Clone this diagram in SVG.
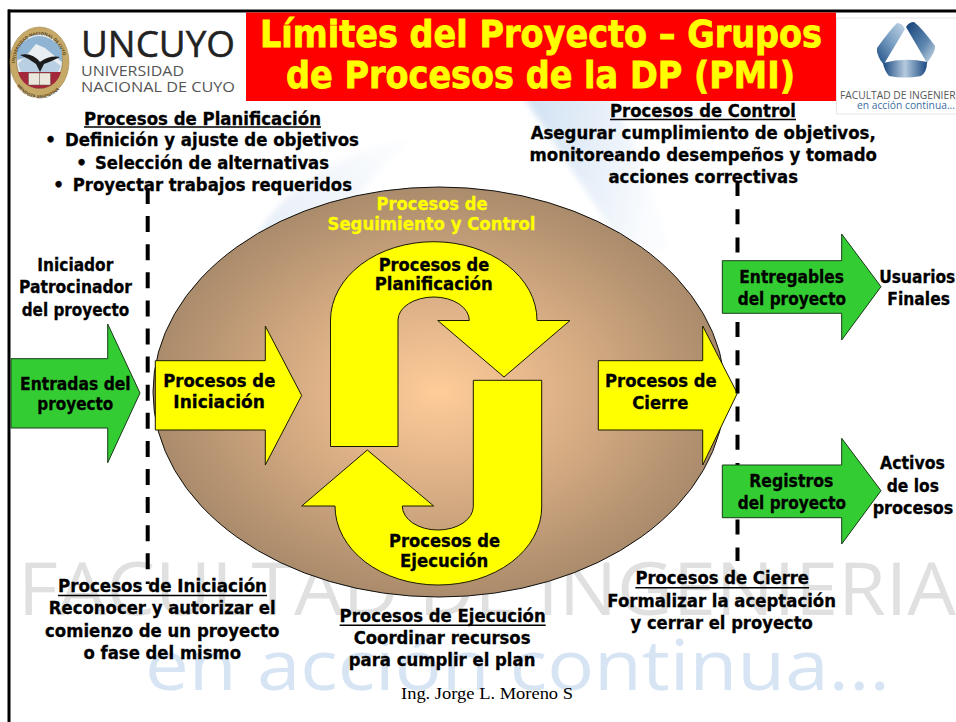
<svg xmlns="http://www.w3.org/2000/svg" width="956" height="722" viewBox="0 0 956 722">
<defs>
<style>
text{font-family:"DejaVu Sans","Liberation Sans",sans-serif;font-weight:700;font-size:17.4px;fill:#000;stroke:#000;stroke-width:.3}
.y{fill:#ffff00;stroke:#ffff00}
.title{font-size:38px;fill:#ffff00;stroke:#ffff00;stroke-width:.8}
.wm{font-family:"Open Sans","Liberation Sans",sans-serif;font-weight:400;stroke:none}
.logo{font-family:"Open Sans","Liberation Sans",sans-serif;font-weight:400;stroke:none}
.arrow-y{fill:#ffff00;stroke:#1a1a00;stroke-width:1}
.arrow-g{fill:#33cc33;stroke:#1a3a1a;stroke-width:1}
.dash{stroke:#000;stroke-width:4;fill:none}
.ul{stroke:#000;stroke-width:1.6}
</style>
<radialGradient id="eg" gradientUnits="objectBoundingBox" cx="0.5" cy="0.5" r="0.5">
<stop offset="0" stop-color="#ffcc99"/><stop offset="0.45" stop-color="#dcb086"/><stop offset="1" stop-color="#aa8b6b"/>
</radialGradient>
<linearGradient id="wmR" x1="0" y1="0" x2="1" y2="0.2"><stop offset="0" stop-color="#cfe0f2"/><stop offset="1" stop-color="#fbfcfe"/></linearGradient>
<linearGradient id="wmL" x1="0" y1="1" x2="1" y2="0"><stop offset="0" stop-color="#e2ebf6"/><stop offset="1" stop-color="#ffffff"/></linearGradient>
<linearGradient id="lbL" x1="0" y1="1" x2="1" y2="0"><stop offset="0" stop-color="#1f4f86"/><stop offset="0.55" stop-color="#7fa3c6"/><stop offset="1" stop-color="#c4d6e6"/></linearGradient>
<linearGradient id="lbR" x1="0" y1="0" x2="1" y2="1"><stop offset="0" stop-color="#123f76"/><stop offset="0.6" stop-color="#5f88b0"/><stop offset="1" stop-color="#d5e1ec"/></linearGradient>
<linearGradient id="lbB" x1="0" y1="0" x2="1" y2="0"><stop offset="0" stop-color="#1a4a82"/><stop offset="0.5" stop-color="#b5cade"/><stop offset="1" stop-color="#1a4a82"/></linearGradient>
<filter id="soft" x="-20%" y="-20%" width="140%" height="140%"><feGaussianBlur stdDeviation="3"/></filter>
<path id="sealTop" d="M14.5 66 A25 31 0 0 1 64.5 66"/>
<path id="sealBot" d="M12 74 A28 30 0 0 0 67 74"/>
</defs>
<rect width="956" height="722" fill="#ffffff"/>
<g id="watermark">
<path d="M523 96 L610 96 Q650 170 668 250 L625 250 Z" fill="url(#wmR)" filter="url(#soft)"/>
<path d="M250 250 Q285 165 420 135 Q345 190 330 260 Z" fill="url(#wmL)" filter="url(#soft)"/>
<text class="wm" x="18" y="615" textLength="938" lengthAdjust="spacingAndGlyphs" style="font-size:74px;fill:#e0e0e0;stroke:none">FACULTAD DE INGENIERIA</text>
<text class="wm" x="145" y="690" textLength="745" lengthAdjust="spacingAndGlyphs" style="font-size:70px;fill:#d6e4f4;stroke:none">en acción continua...</text>
</g>
<g id="frame"><path d="M8 11H956" stroke="#000" stroke-width="3"/><path d="M9 9.5V722" stroke="#000" stroke-width="3"/></g>
<g id="title">
<rect x="246" y="12.5" width="590" height="88.5" fill="#ff0000"/>
<text class="title" x="260" y="47" textLength="562" lengthAdjust="spacingAndGlyphs">Límites del Proyecto – Grupos</text>
<text class="title" x="286" y="88" textLength="509" lengthAdjust="spacingAndGlyphs">de Procesos de la DP (PMI)</text>
</g>
<g id="logo-uncuyo">
<ellipse cx="39.5" cy="62" rx="29.5" ry="35" fill="#c6a867" stroke="#a58a52" stroke-width="0.6"/>
<ellipse cx="39.5" cy="61" rx="23" ry="27.5" fill="#e9eef2" stroke="#6d5a35" stroke-width="0.5"/>
<path d="M17 48 Q39 24 62 48 L62 62 L45 48 L36 44 L24 58 L17 60Z" fill="#8fb4d4"/>
<path d="M18 64 L28 54 L38 62 L50 58 L61 66 L58 72 H21Z" fill="#b9d0e2"/>
<path d="M20 55 Q32 52 40 62 Q50 55 60 57 Q50 62 44 64 L40 72 L36 64 Q28 58 20 55Z" fill="#1c1c1c"/>
<path d="M18 72 H61 Q56 88 39.5 88.5 Q23 88 18 72Z" fill="#a3283c"/>
<rect x="28.5" y="73" width="22" height="12" fill="#ece7dc" stroke="#6b5b50" stroke-width="0.5"/>
<path d="M39.5 73V85" stroke="#6b5b50" stroke-width="0.6"/>
<text class="logo" style="font-size:4.4px;font-weight:700;fill:#5d4a22"><textPath href="#sealTop" startOffset="3%">UNIVERSIDAD NACIONAL DE CUYO</textPath></text>
<text class="logo" style="font-size:4.4px;font-weight:700;fill:#5d4a22"><textPath href="#sealBot" startOffset="16%">MENDOZA ARGENTINA</textPath></text>
<text class="logo" x="81" y="57" textLength="154" lengthAdjust="spacingAndGlyphs" style="font-size:37px;fill:#222;stroke:#222;stroke-width:.5">UNCUYO</text>
<text class="logo" x="81" y="76" textLength="103" lengthAdjust="spacingAndGlyphs" style="font-size:15px;fill:#555">UNIVERSIDAD</text>
<text class="logo" x="81" y="92" textLength="154" lengthAdjust="spacingAndGlyphs" style="font-size:15px;fill:#555">NACIONAL DE CUYO</text>
</g>
<g id="logo-facultad">
<rect x="836.5" y="18" width="125" height="96" fill="#fff" stroke="#e6e6e6" stroke-width="1"/>
<path d="M877 48 Q890 30 897 23 Q902 23 905 29 L884 64 Q880 62 877 52Z" fill="url(#lbL)"/>
<path d="M906 27 Q909 22 914 22 Q922 28 935 46 Q936 51 927 63 Z" fill="url(#lbR)"/>
<path d="M883 63 Q905 57 927 62 Q927 72 921 76 Q905 79 889 76 Q884 70 883 63Z" fill="url(#lbB)"/>
<text class="logo" x="840" y="99" textLength="115.5" lengthAdjust="spacingAndGlyphs" style="font-size:10.5px;fill:#555">FACULTAD DE INGENIER</text>
<text class="logo" x="857" y="109" textLength="98" lengthAdjust="spacingAndGlyphs" style="font-size:10.5px;fill:#3b6ea5">en acción continua...</text>
</g>
<g id="node-seguimiento">
<ellipse cx="439" cy="392" rx="286" ry="205" fill="url(#eg)" stroke="#111" stroke-width="1"/>
<text class="y" x="376.5" y="210" textLength="111" lengthAdjust="spacingAndGlyphs">Procesos de</text>
<text class="y" x="327.5" y="230" textLength="208" lengthAdjust="spacingAndGlyphs">Seguimiento y Control</text>
</g>
<g id="node-planificacion">
<path class="arrow-y" d="M330.5 446.5V320A102.5 78 0 0 1 537 320.5H570L504 377L437.7 320.5H469.3A35.5 23.5 0 0 0 434 297A36 23 0 0 0 398 320V446.5Z"/>
<text x="378.7" y="270.7" textLength="110.6" lengthAdjust="spacingAndGlyphs">Procesos de</text>
<text x="374.7" y="290" textLength="118" lengthAdjust="spacingAndGlyphs">Planificación</text>
</g>
<g id="node-ejecucion">
<path class="arrow-y" d="M473.3 380.3H541.7V507A103.4 78 0 0 1 438 585A103 79 0 0 1 335 506H301.7L367.3 450L433.7 506H402.3A35.5 24 0 0 0 438 530A35.3 23.5 0 0 0 473.3 506.5Z"/>
<text x="389" y="546.7" textLength="111" lengthAdjust="spacingAndGlyphs">Procesos de</text>
<text x="400" y="566.7" textLength="88.3" lengthAdjust="spacingAndGlyphs">Ejecución</text>
</g>
<g id="node-iniciacion">
<path class="arrow-y" d="M155.3 360.7H265.3V326L301.7 395.5L265.3 465V430H155.3Z"/>
<text x="163.3" y="386.7" textLength="112" lengthAdjust="spacingAndGlyphs">Procesos de</text>
<text x="173.3" y="408.3" textLength="91.7" lengthAdjust="spacingAndGlyphs">Iniciación</text>
</g>
<g id="node-cierre">
<path class="arrow-y" d="M598.3 360.7H702.7V326L737.3 393.3L702.7 465V430H598.3Z"/>
<text x="605" y="386.7" textLength="111.7" lengthAdjust="spacingAndGlyphs">Procesos de</text>
<text x="632.3" y="409" textLength="56" lengthAdjust="spacingAndGlyphs">Cierre</text>
</g>
<g id="connectors">
<path class="dash" d="M147.7 188V584" stroke-dasharray="16 12.1"/>
<path class="dash" d="M737.5 183V561" stroke-dasharray="15 13.2" stroke-dashoffset="2"/>
</g>
<g id="node-entradas">
<path class="arrow-g" d="M11 358.7H107.7V324L140 393L107.7 462.7V428H11Z"/>
<text x="20" y="390" textLength="110.7" lengthAdjust="spacingAndGlyphs">Entradas del</text>
<text x="37.3" y="410" textLength="76" lengthAdjust="spacingAndGlyphs">proyecto</text>
</g>
<g id="node-entregables">
<path class="arrow-g" d="M722.3 260.7H841.7V234L881 286.7L841.7 340V313.3H722.3Z"/>
<text x="739.3" y="283.3" textLength="104.7" lengthAdjust="spacingAndGlyphs">Entregables</text>
<text x="737.7" y="305" textLength="108.3" lengthAdjust="spacingAndGlyphs">del proyecto</text>
</g>
<g id="node-registros">
<path class="arrow-g" d="M722.3 465H841.7V438.3L881 490.7L841.7 544V517.7H722.3Z"/>
<text x="749.3" y="486.7" textLength="84" lengthAdjust="spacingAndGlyphs">Registros</text>
<text x="737.7" y="509.3" textLength="108.3" lengthAdjust="spacingAndGlyphs">del proyecto</text>
</g>
<g id="labels-actors">
<text x="37.3" y="271" textLength="76" lengthAdjust="spacingAndGlyphs">Iniciador</text>
<text x="19" y="293.3" textLength="113" lengthAdjust="spacingAndGlyphs">Patrocinador</text>
<text x="21.7" y="316" textLength="107.6" lengthAdjust="spacingAndGlyphs">del proyecto</text>
<text x="879.3" y="283.3" textLength="76" lengthAdjust="spacingAndGlyphs">Usuarios</text>
<text x="887.3" y="305" textLength="62.7" lengthAdjust="spacingAndGlyphs">Finales</text>
<text x="880" y="469.3" textLength="65" lengthAdjust="spacingAndGlyphs">Activos</text>
<text x="886.7" y="491.7" textLength="52.3" lengthAdjust="spacingAndGlyphs">de los</text>
<text x="872.7" y="514" textLength="80.6" lengthAdjust="spacingAndGlyphs">procesos</text>
</g>
<g id="desc-planificacion">
<text x="84" y="124.5" textLength="237" lengthAdjust="spacingAndGlyphs">Procesos de Planificación</text><path class="ul" d="M84 127H321"/>
<text x="45" y="146">•</text><text x="65" y="146" textLength="294" lengthAdjust="spacingAndGlyphs">Definición y ajuste de objetivos</text>
<text x="76" y="169">•</text><text x="95" y="169" textLength="234" lengthAdjust="spacingAndGlyphs">Selección de alternativas</text>
<text x="53" y="191">•</text><text x="72.7" y="191" textLength="279.3" lengthAdjust="spacingAndGlyphs">Proyectar trabajos requeridos</text>
</g>
<g id="desc-control">
<text x="610" y="117" textLength="186" lengthAdjust="spacingAndGlyphs">Procesos de Control</text><path class="ul" d="M610 119.5H796"/>
<text x="530.7" y="139" textLength="345" lengthAdjust="spacingAndGlyphs">Asegurar cumplimiento de objetivos,</text>
<text x="529.5" y="161" textLength="347.5" lengthAdjust="spacingAndGlyphs">monitoreando desempeños y tomado</text>
<text x="608.5" y="183" textLength="189.5" lengthAdjust="spacingAndGlyphs">acciones correctivas</text>
</g>
<g id="desc-iniciacion">
<text x="58" y="592.3" textLength="209" lengthAdjust="spacingAndGlyphs">Procesos de Iniciación</text><path class="ul" d="M58 595.5H267"/>
<text x="48.8" y="614.3" textLength="226.8" lengthAdjust="spacingAndGlyphs">Reconocer y autorizar el</text>
<text x="45" y="637.3" textLength="234.3" lengthAdjust="spacingAndGlyphs">comienzo de un proyecto</text>
<text x="83.5" y="659" textLength="157.5" lengthAdjust="spacingAndGlyphs">o fase del mismo</text>
</g>
<g id="desc-ejecucion">
<text x="339.6" y="622" textLength="206.1" lengthAdjust="spacingAndGlyphs">Procesos de Ejecución</text><path class="ul" d="M339.6 625.3H545.7"/>
<text x="353.7" y="644" textLength="176.8" lengthAdjust="spacingAndGlyphs">Coordinar recursos</text>
<text x="348.8" y="666" textLength="186.6" lengthAdjust="spacingAndGlyphs">para cumplir el plan</text>
</g>
<g id="desc-cierre">
<text x="635.4" y="584.3" textLength="173.6" lengthAdjust="spacingAndGlyphs">Procesos de Cierre</text><path class="ul" d="M635.4 587.7H809"/>
<text x="607.3" y="607.3" textLength="228.7" lengthAdjust="spacingAndGlyphs">Formalizar la aceptación</text>
<text x="630.5" y="629.3" textLength="182.3" lengthAdjust="spacingAndGlyphs">y cerrar el proyecto</text>
</g>
<g id="footer"><text x="401" y="699" textLength="172" lengthAdjust="spacingAndGlyphs" style="font-family:'Liberation Serif',serif;font-weight:400;font-size:16px;stroke:none">Ing. Jorge L. Moreno S</text></g>
</svg>
